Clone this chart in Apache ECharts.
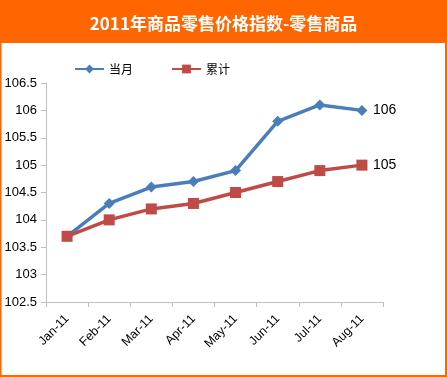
<!DOCTYPE html>
<html><head><meta charset="utf-8">
<script src="https://cdn.jsdelivr.net/npm/echarts@6/dist/echarts.min.js"></script>
<style>html,body{margin:0;padding:0;background:#fff}#c{width:447px;height:377px}</style>
</head><body><div id="c"></div>
<script>
const categories = ['Jan-11','Feb-11','Mar-11','Apr-11','May-11','Jun-11','Jul-11','Aug-11'];
const monthly = [103.7, 104.3, 104.6, 104.7, 104.9, 105.8, 106.1, 106.0];
const cumulative = [103.7, 104.0, 104.2, 104.3, 104.5, 104.7, 104.9, 105.0];
const titleText = '2011年商品零售价格指数-零售商品';
const seriesNames = ['当月', '累计'];

const chart = echarts.init(document.getElementById('c'), null, {renderer: 'canvas'});
chart.setOption({
  backgroundColor: '#fff',
  animation: false,
  graphic: [
    {type: 'rect', shape: {x: 0, y: 0, width: 447, height: 43}, style: {fill: '#FF6600'}, z: 0},
    {type: 'rect', shape: {x: 0.5, y: 0.5, width: 445.5, height: 375.5}, style: {fill: 'none', stroke: '#FF6600', lineWidth: 2}, z: 0}
  ],
  title: {
    text: titleText, left: 'center', top: 10,
    textStyle: {color: '#fff', fontSize: 17, fontWeight: 'bold', fontFamily: 'Noto Sans CJK SC'}
  },
  legend: {
    left: 69, top: 58, itemWidth: 29, itemHeight: 11, itemGap: 38,
    textStyle: {color: '#000', fontSize: 12, fontFamily: 'Noto Sans CJK SC'},
    data: seriesNames
  },
  grid: {left: 46, right: 64, top: 83, bottom: 75, containLabel: false},
  xAxis: {
    type: 'category', data: categories, boundaryGap: true,
    axisLine: {lineStyle: {color: '#BFBFBF', width: 1}},
    axisTick: {show: true, length: 5, lineStyle: {color: '#BFBFBF'}},
    axisLabel: {rotate: 45, color: '#000', fontSize: 12.5, fontFamily: 'Liberation Sans', margin: 15}
  },
  yAxis: {
    type: 'value', min: 102.5, max: 106.5, interval: 0.5,
    axisLine: {show: true, lineStyle: {color: '#BFBFBF', width: 1}},
    axisTick: {show: true, length: 5, lineStyle: {color: '#BFBFBF'}},
    splitLine: {show: false},
    axisLabel: {color: '#000', fontSize: 13, fontFamily: 'Liberation Sans', margin: 9}
  },
  series: [
    {
      name: seriesNames[0], type: 'line', data: monthly,
      symbol: 'diamond', symbolSize: 11,
      lineStyle: {color: '#4A7EBB', width: 3.5},
      itemStyle: {color: '#4A7EBB'},
      endLabel: {show: true, distance: 11, color: '#000', fontSize: 14, fontFamily: 'Liberation Sans', formatter: p => String(p.value)}
    },
    {
      name: seriesNames[1], type: 'line', data: cumulative,
      symbol: 'rect', symbolSize: 11,
      lineStyle: {color: '#BE4B48', width: 3.5},
      itemStyle: {color: '#BE4B48'},
      endLabel: {show: true, distance: 11, color: '#000', fontSize: 14, fontFamily: 'Liberation Sans', formatter: p => String(p.value)}
    }
  ]
});
</script></body></html>
